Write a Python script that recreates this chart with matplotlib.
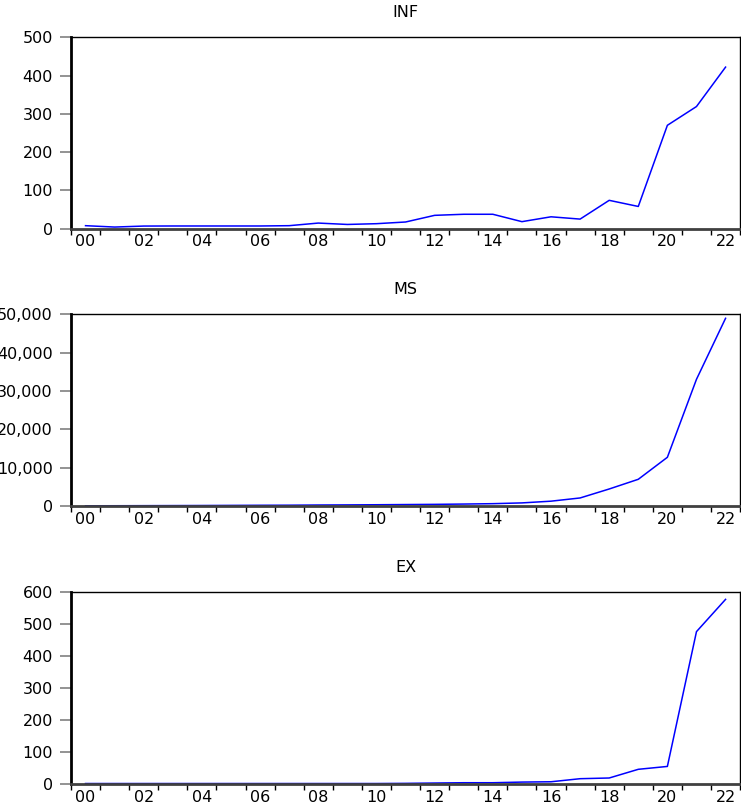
import matplotlib.pyplot as plt
import numpy as np

# annual series 2000-2022
years = list(range(2000, 2023))

inf = [7.8, 4.2, 6.8, 7, 7, 7, 7, 7.8, 14.6, 11, 13, 17.4, 34.8,
       37.6, 37.6, 18.3, 31, 25, 74, 58, 270, 319, 422]
ms = [50, 60, 80, 100, 120, 150, 180, 200, 250, 280, 320, 370, 420,
      500, 600, 800, 1250, 2090, 4430, 6960, 12700, 33040, 48960]
ex = [1.5, 1.5, 1.5, 1.5, 1.5, 1.5, 1.5, 1.5, 1.5, 1.5, 1.5, 2, 3,
      4, 4, 6, 7, 16.6, 18.8, 46, 55, 477, 578]

titles = ['INF', 'MS', 'EX']
series = [inf, ms, ex]
y_ticks = [np.arange(0, 501, 100), np.arange(0, 50001, 10000), np.arange(0, 601, 100)]

plt.rcParams['font.family'] = ['DejaVu Sans']

fig = plt.figure(figsize=(7.41, 8.08), dpi=100)

# axes boxes in figure fractions [left, bottom, width, height]
boxes = [[0.0958, 0.717, 0.903, 0.2369],
         [0.0958, 0.3738, 0.903, 0.2372],
         [0.0958, 0.0297, 0.903, 0.2372]]

x = np.arange(len(years))

for box, title, values, yt in zip(boxes, titles, series, y_ticks):
    ax = fig.add_axes(box)
    ax.plot(x, values, color='#0000ff', linewidth=1.1)

    ax.set_xlim(-0.5, len(years) - 0.5)
    ax.set_ylim(yt[0], yt[-1])
    ax.set_yticks(yt)
    if title == 'MS':
        ax.set_yticklabels([f'{int(v):,}' for v in yt])
    else:
        ax.set_yticklabels([str(int(v)) for v in yt])

    # year boundaries get tick marks, even years get the labels
    ax.set_xticks(np.arange(-0.5, len(years), 1.0))
    ax.set_xticklabels([])
    ax.set_xticks(x[::2], minor=True)
    ax.set_xticklabels([f'{y % 100:02d}' for y in years[::2]], minor=True)

    ax.tick_params(axis='x', which='major', direction='out', length=4.5,
                   width=1, color='black')
    ax.tick_params(axis='x', which='minor', length=0, pad=4, labelsize=11.5)
    ax.tick_params(axis='y', direction='out', length=8, width=1.2,
                   color='#808080', pad=5, labelsize=11.5)

    ax.spines['left'].set_linewidth(2)
    ax.spines['left'].set_color('black')
    ax.spines['bottom'].set_linewidth(2)
    ax.spines['bottom'].set_color('#404040')
    ax.spines['top'].set_linewidth(1)
    ax.spines['right'].set_linewidth(1)

    ax.set_title(title, fontsize=11.5, pad=14.5)

fig.savefig('out.png', dpi=100)
